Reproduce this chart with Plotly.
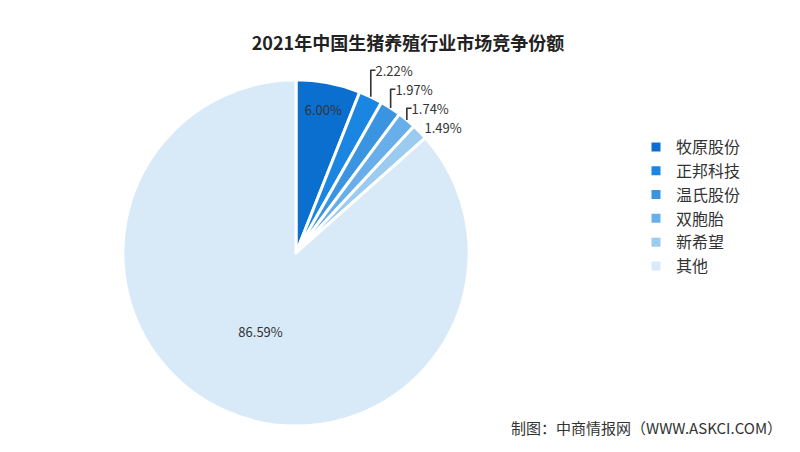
import plotly.graph_objects as go

labels = ["牧原股份", "正邦科技", "温氏股份", "双胞胎", "新希望", "其他"]
values = [6.00, 2.22, 1.97, 1.74, 1.49, 86.59]
colors = ["#0b6fd0", "#1a86e2", "#3a94e0", "#68aeea", "#9ccbf0", "#d8e9f8"]
title = "2021年中国生猪养殖行业市场竞争份额"
source = "制图：中商情报网（WWW.ASKCI.COM）"

font = "Noto Sans CJK SC"
fig = go.Figure(go.Pie(
    labels=labels, values=values, sort=False, direction="clockwise", rotation=0,
    marker=dict(colors=colors, line=dict(color="white", width=3)),
    texttemplate="%{value:.2f}%", textposition=["inside", "outside", "outside", "outside", "outside", "inside"],
    insidetextorientation="horizontal",
    textfont=dict(family=font, size=13, color="#333"),
    domain=dict(x=[0.09, 0.63], y=[0.075, 0.841]),
    hoverinfo="label+value",
))
fig.update_layout(
    width=800, height=452, margin=dict(l=0, r=0, t=0, b=0),
    paper_bgcolor="white", plot_bgcolor="white",
    font=dict(family=font, color="#333"),
    title=dict(text="<b>" + title + "</b>", x=0.5, xanchor="center", y=0.935, font=dict(size=18, color="#222")),
    legend=dict(x=0.785, y=0.73, xanchor="left", yanchor="top", font=dict(size=16, color="#333"),
                itemwidth=30),
    annotations=[dict(text=source, x=0.97, y=0.045, xref="paper", yref="paper", xanchor="right",
                      showarrow=False, font=dict(size=15, color="#333"))],
)
fig.write_html("out.html")
